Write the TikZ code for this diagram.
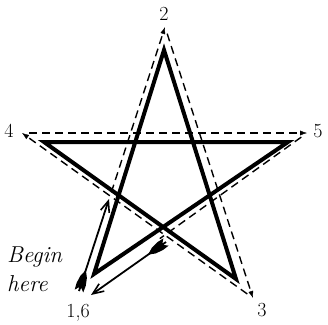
\documentclass[tikz,border=0pt]{standalone}
\usetikzlibrary{arrows.meta,calc}
\begin{document}
\begin{tikzpicture}[x=1pt,y=-1pt,
  solidstar/.style={line width=4pt, line join=miter},
  dashedge/.style={line width=1.4pt, dash pattern=on 8pt off 5pt},
  vtip/.style={-{Latex[length=7pt,width=5pt]}},
  lbl/.style={font=\fontsize{20}{22}\selectfont, inner sep=0pt},
  shaft/.style={line width=1.8pt, -{Straight Barb[length=11pt,width=9pt,line width=1.6pt]}},
  fletch/.pic={\fill (0,4.5) -- (3.5,1.2) -- (2,0) -- (3.5,-1.2) -- (0,-4.5) -- (7,-4.8) -- (15,-3.4) -- (22,0) -- (15,3.4) -- (7,4.8) -- cycle;}
]
\useasboundingbox (0,0) rectangle (328,324);
% dashed star vertices
\coordinate (d1) at (77,298);
\coordinate (d2) at (165,27);
\coordinate (d3) at (253,298);
\coordinate (d4) at (22,133);
\coordinate (d5) at (307,133);
% solid star vertices
\coordinate (s1) at (94,274);
\coordinate (s2) at (164,50);
\coordinate (s3) at (236,279);
\coordinate (s4) at (44,142);
\coordinate (s5) at (288,142);
% arrows
\coordinate (atail) at (79,291);
\coordinate (ahead) at (109,199);
\coordinate (btail) at (166,242);
\coordinate (bhead) at (91,295);
% dashed path
\draw[dashedge] ($(d1)!0.39!(d2)$) -- ($(d2)!9pt!(d1)$);
\draw[dashedge] ($(d2)!7pt!(d3)$) -- ($(d3)!9pt!(d2)$);
\draw[dashedge] ($(d3)!7pt!(d4)$) -- ($(d4)!9pt!(d3)$);
\draw[dashedge] ($(d4)!7pt!(d5)$) -- ($(d5)!9pt!(d4)$);
\draw[dashedge] ($(d5)!7pt!(d1)$) -- ($(d5)!0.64!(d1)$);
\draw[vtip] ($(d2)!7pt!(d1)$) -- (d2);
\draw[vtip] ($(d3)!7pt!(d2)$) -- (d3);
\draw[vtip] ($(d4)!7pt!(d3)$) -- (d4);
\draw[vtip] ($(d5)!7pt!(d4)$) -- (d5);
% solid star
\draw[solidstar] (s1) -- (s2) -- (s3) -- (s4) -- (s5) -- cycle;
% arrows with fletching
\draw[shaft] (atail) -- (ahead);
\pic[rotate=71.9] at (atail) {fletch};
\draw[shaft] (btail) -- (bhead);
\pic[rotate=215.2] at (btail) {fletch};
% labels
\node[lbl] (l2) at (164,14) {2};
\node[lbl] (l4) at (9,131) {4};
\node[lbl] (l5) at (318,131) {5};
\node[lbl] (l3) at (262,310) {3};
\node[lbl] (l1) at (78,313) {1,6};
\node[font=\fontsize{23}{29}\selectfont\itshape, align=left, inner sep=0pt, anchor=west] (begin) at (7,269) {Begin\\here};
\end{tikzpicture}
\end{document}
